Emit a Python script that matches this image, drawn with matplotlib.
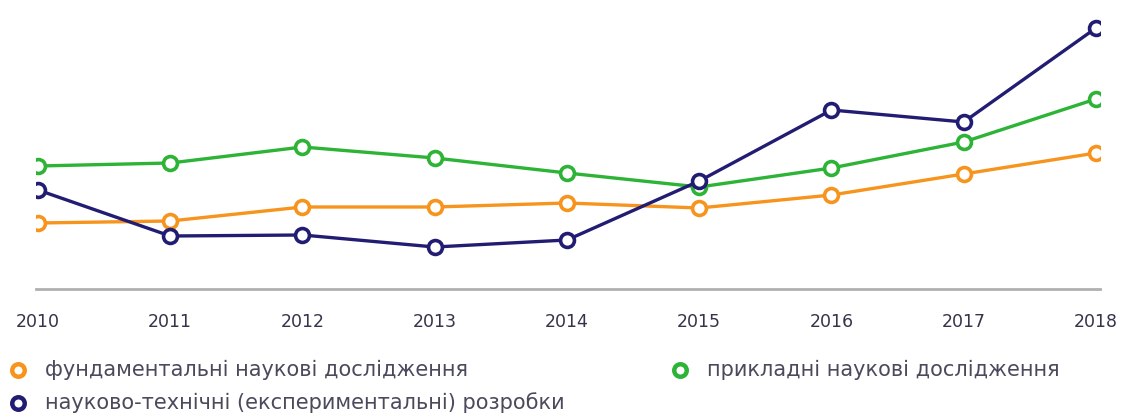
import matplotlib
matplotlib.use("Agg")
import matplotlib.pyplot as plt
from matplotlib.lines import Line2D
from matplotlib.transforms import IdentityTransform

years = [2010, 2011, 2012, 2013, 2014, 2015, 2016, 2017, 2018]
fundamental = [6.6, 6.8, 8.2, 8.2, 8.6, 8.1, 9.4, 11.5, 13.6]
applied = [12.3, 12.6, 14.2, 13.1, 11.6, 10.2, 12.1, 14.7, 19.0]
development = [9.9, 5.3, 5.4, 4.2, 4.9, 10.8, 17.9, 16.7, 26.1]

labels = ["фундаментальні наукові дослідження",
          "прикладні наукові дослідження",
          "науково-технічні (експериментальні) розробки"]
colors = ["#F7941D", "#2DB336", "#221D72"]

plt.rcParams['font.family'] = ['DejaVu Sans']

W, H = 1138, 417
fig = plt.figure(figsize=(W / 100, H / 100), dpi=100)
ax = fig.add_axes([36 / W, (H - 289) / H, (1100 - 36) / W, (289 - 10) / H])

series = [fundamental, applied, development]
for vals, c, lab in zip(series, colors, labels):
    ax.plot(years, vals, color=c, lw=2.4, marker='o', ms=10,
            mfc='white', mew=2.6, mec=c, label=lab, zorder=3)

step = 1 / 132.25
ax.set_xlim(2010 - 2 * step, 2018 + 4 * step)
ax.set_ylim(0, 27.9)
for s in ['top', 'right', 'left']:
    ax.spines[s].set_visible(False)
ax.spines['bottom'].set_color('#b0b0b0')
ax.spines['bottom'].set_linewidth(2)
ax.set_yticks([])
ax.set_xticks(years)
ax.set_xticklabels([str(y) for y in years])
ax.tick_params(axis='x', length=0, pad=17, labelsize=12.5, labelcolor='#34344a')

# legend drawn manually (positions in figure pixels, y from top)
entries = [(18, 370, 0), (680, 370, 1), (18, 403, 2)]
for x, y, i in entries:
    fig.add_artist(Line2D([x / W], [(H - y) / H], transform=fig.transFigure,
                          marker='o', ms=9, mew=3.2, mec=colors[i], mfc='white',
                          linestyle='None'))
    fig.text((x + 27) / W, (H - y) / H, labels[i], fontsize=15,
             color='#4a4a5c', va='center', ha='left')

fig.savefig("out.png", dpi=100, facecolor='white')
